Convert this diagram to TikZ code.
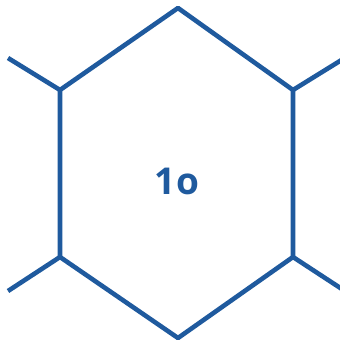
\documentclass[tikz,border=0pt]{standalone}
\usepackage{fontspec}
\setsansfont{Open Sans}
\usepackage{tikz}
\usetikzlibrary{calc}
\definecolor{hexBlue}{HTML}{1F5A9E}
\tikzset{
  hexEdge/.style={draw=hexBlue, line width=4.6pt, line join=round},
  hexStub/.style={draw=hexBlue, line width=4.6pt},
  hexLabel/.style={text=hexBlue, font=\sffamily\bfseries\fontsize{37}{40}\selectfont},
}

\begin{document}
\begin{tikzpicture}[x=1pt, y=-1pt]
    \clip (0,0) rectangle (340,341);
    \useasboundingbox (0,0) rectangle (340,341);
    % hexagon corners
    \coordinate (top) at (178,8);
    \coordinate (ur)  at (293,90);
    \coordinate (lr)  at (293,257);
    \coordinate (bot) at (178,338);
    \coordinate (ll)  at (60,257);
    \coordinate (ul)  at (60,90);
    % ends of the outside stubs
    \coordinate (ulOut) at (8,58);
    \coordinate (llOut) at (8,291);
    \coordinate (urOut) at (348,56);
    \coordinate (lrOut) at (348,293);
    \draw[hexEdge] (top) -- (ur) -- (lr) -- (bot) -- (ll) -- (ul) -- cycle;
    \draw[hexStub] (ul) -- (ulOut);
    \draw[hexStub] (ll) -- (llOut);
    \draw[hexStub] (ur) -- (urOut);
    \draw[hexStub] (lr) -- (lrOut);
    \node[hexLabel] (cell) at (177,181) {1o};
  \end{tikzpicture}
\end{document}
